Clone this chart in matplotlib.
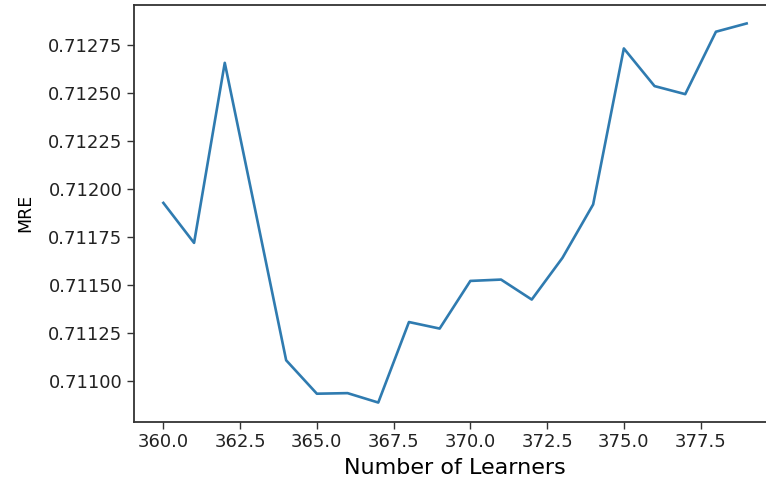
import numpy as np
import matplotlib
matplotlib.use('Agg')
import matplotlib.pyplot as plt

# number of learners vs MRE
learners = [360, 361, 362, 363, 364, 365, 366, 367, 368, 369,
            370, 371, 372, 373, 374, 375, 376, 377, 378, 379]
mre = [0.711927, 0.711719, 0.712656, 0.711884, 0.711108, 0.710934,
       0.710937, 0.710888, 0.711307, 0.711273, 0.711521, 0.711528,
       0.711424, 0.711641, 0.711919, 0.712731, 0.712535, 0.712493,
       0.712818, 0.712861]

fig = plt.figure(figsize=(7.66, 4.84), dpi=100)
# the right spine falls just outside the picture, as in the reference crop
ax = fig.add_axes([134.2 / 766, 1 - 421.5 / 484, (775.8 - 134.2) / 766, (421.5 - 4.5) / 484])

ax.plot(learners, mre, color='#2f7bb0', linewidth=1.9)

ax.set_xlabel('Number of Learners', fontsize=16, labelpad=5)
ax.set_ylabel('MRE', fontsize=12.5, labelpad=10)
ax.tick_params(axis='both', labelsize=13, length=5, width=1.0, color='#333333', labelcolor='#222222')
ax.set_xticks([360.0, 362.5, 365.0, 367.5, 370.0, 372.5, 375.0, 377.5])
ax.set_xticklabels(['360.0', '362.5', '365.0', '367.5', '370.0', '372.5', '375.0', '377.5'])
ax.set_yticks([0.71100, 0.71125, 0.71150, 0.71175, 0.71200, 0.71225, 0.71250, 0.71275])
ax.set_yticklabels(['0.71100', '0.71125', '0.71150', '0.71175', '0.71200', '0.71225', '0.71250', '0.71275'])
for s in ax.spines.values():
    s.set_color('#333333')
    s.set_linewidth(1.3)
ax.spines['right'].set_visible(False)

plt.savefig('out.png', dpi=100)
